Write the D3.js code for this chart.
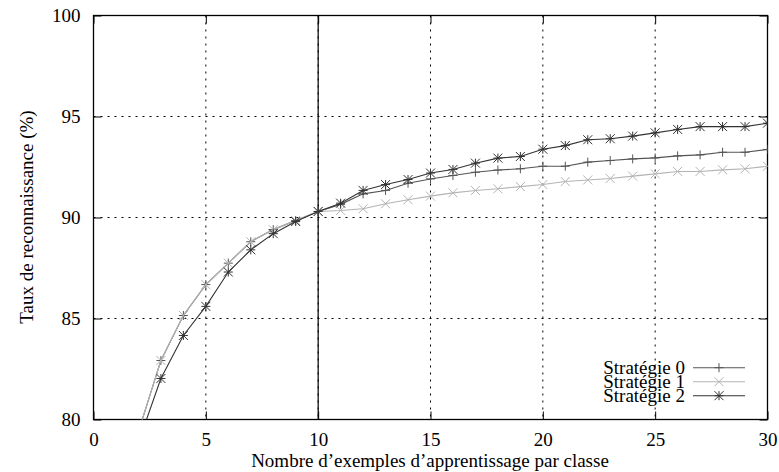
<!DOCTYPE html>
<html><head><meta charset="utf-8">
<script src="https://cdn.jsdelivr.net/npm/d3@7"></script>
</head><body style="margin:0"><svg id="c" width="779" height="472" style="display:block"></svg>
<script>
const xs = [2,3,4,5,6,7,8,9,10,11,12,13,14,15,16,17,18,19,20,21,22,23,24,25,26,27,28,29,30];
const strat0 = [79.4,82.92,85.15,86.68,87.74,88.8,89.4,89.85,90.3,90.65,91.17,91.34,91.7,91.91,92.08,92.24,92.35,92.41,92.54,92.54,92.74,92.82,92.9,92.95,93.05,93.1,93.23,93.23,93.37];
const strat1 = [79.4,82.92,85.15,86.68,87.74,88.8,89.4,89.85,90.3,90.35,90.43,90.68,90.88,91.06,91.22,91.34,91.42,91.53,91.63,91.78,91.86,91.93,92.05,92.16,92.28,92.28,92.36,92.41,92.54];
const strat2 = [78.86,82.03,84.16,85.6,87.3,88.4,89.2,89.8,90.3,90.71,91.34,91.63,91.88,92.2,92.38,92.69,92.94,93.02,93.38,93.56,93.85,93.9,94.03,94.19,94.36,94.5,94.5,94.5,94.67];
const seriesNames = ["Stratégie 0","Stratégie 1","Stratégie 2"];
const xTicks = [0,5,10,15,20,25,30];
const yTicks = [80,85,90,95,100];
const xTitle = "Nombre d’exemples d’apprentissage par classe";
const yTitle = "Taux de reconnaissance (%)";

function styleText(sel){ return sel.attr("font-family","Liberation Serif").attr("font-size","19px").attr("fill","#000"); }

const svg = d3.select("#c");
const L=93.5, R=767.5, T=15.5, B=419.5;
const x = d3.scaleLinear().domain([0,30]).range([L,R]);
const y = d3.scaleLinear().domain([80,100]).range([B,T]);

svg.append("defs").append("clipPath").attr("id","clip").append("rect")
  .attr("x",L).attr("y",T).attr("width",R-L).attr("height",B-T);

const g = svg.append("g");
xTicks.slice(1,-1).forEach(t=>{
  g.append("line").attr("x1",x(t)).attr("x2",x(t)).attr("y1",T).attr("y2",B)
   .attr("stroke","#000").attr("stroke-width",1).attr("stroke-dasharray","2,5");
});
yTicks.slice(1,-1).forEach(t=>{
  g.append("line").attr("x1",L).attr("x2",R).attr("y1",y(t)).attr("y2",y(t))
   .attr("stroke","#000").attr("stroke-width",1).attr("stroke-dasharray","2,5");
});
g.append("line").attr("x1",x(10)).attr("x2",x(10)).attr("y1",T).attr("y2",B).attr("stroke","#000").attr("stroke-width",1.2);

const fmt = d3.format("d");
const ax = [
  [d3.axisBottom(x).tickValues(xTicks).tickSize(-8).tickPadding(13).tickFormat(fmt), `translate(0,${B})`],
  [d3.axisTop(x).tickValues(xTicks).tickSize(-8).tickFormat(""), `translate(0,${T})`],
  [d3.axisLeft(y).tickValues(yTicks).tickSize(-8).tickPadding(13).tickFormat(fmt), `translate(${L},0)`],
  [d3.axisRight(y).tickValues(yTicks).tickSize(-8).tickFormat(""), `translate(${R},0)`]
];
ax.forEach(([a,tr])=>{
  const gg = svg.append("g").attr("transform",tr).call(a);
  gg.attr("font-family","Liberation Serif").attr("font-size","19px");
  gg.select(".domain").remove();
  gg.selectAll("line").attr("stroke","#000");
  styleText(gg.selectAll("text"));
});
svg.append("rect").attr("x",L).attr("y",T).attr("width",R-L).attr("height",B-T)
  .attr("fill","none").attr("stroke","#000").attr("stroke-width",1.3);

const colors = ["#555","#b4b4b4","#333"];
const data = [strat0,strat1,strat2];
const line = d3.line().x(d=>x(d[0])).y(d=>y(d[1]));
const s = 4.5;
function marker(sel,type,cx,cy,col){
  let p="";
  if(type===0||type===2) p+=`M${cx-s},${cy}H${cx+s}M${cx},${cy-s}V${cy+s}`;
  if(type===1||type===2) p+=`M${cx-s},${cy-s}L${cx+s},${cy+s}M${cx-s},${cy+s}L${cx+s},${cy-s}`;
  sel.append("path").attr("d",p).attr("stroke",col).attr("stroke-width",1).attr("fill","none");
}
const plot = svg.append("g").attr("clip-path","url(#clip)");
data.forEach((vals,i)=>{
  const pts = xs.map((xv,j)=>[xv,vals[j]]);
  plot.append("path").attr("d",line(pts)).attr("fill","none").attr("stroke",colors[i]).attr("stroke-width",1.1);
  pts.forEach(p=>{ if(p[1]>=80) marker(plot,i,x(p[0]),y(p[1]),colors[i]); });
});

seriesNames.forEach((n,i)=>{
  const ly = 367.7 + i*14;
  styleText(svg.append("text").attr("x",685).attr("y",ly+6.5).attr("text-anchor","end").text(n));
  svg.append("line").attr("x1",693).attr("x2",745).attr("y1",ly).attr("y2",ly).attr("stroke",colors[i]).attr("stroke-width",1.1);
  marker(svg,i,719,ly,colors[i]);
});

styleText(svg.append("text").attr("x",430).attr("y",467).attr("text-anchor","middle").text(xTitle));
styleText(svg.append("text").attr("transform","translate(33,217) rotate(-90)").attr("text-anchor","middle").text(yTitle));
</script></body></html>
